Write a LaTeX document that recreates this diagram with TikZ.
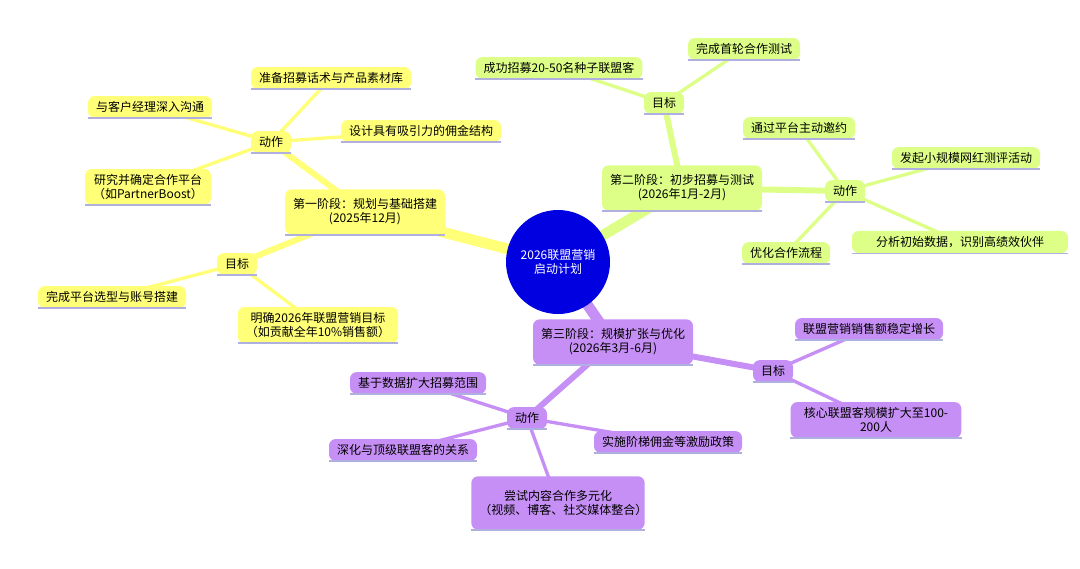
\documentclass[tikz,border=0pt]{standalone}
\usepackage{fontspec}
\setmainfont{Noto Sans CJK SC}
\usetikzlibrary{positioning,backgrounds}
\definecolor{yel}{HTML}{FFFF78}
\definecolor{grn}{HTML}{DDFF88}
\definecolor{pur}{HTML}{C68FF5}
\definecolor{rootc}{HTML}{0000E0}
\definecolor{lineb}{HTML}{B0B0E0}
\tikzset{
  box/.style={rounded corners=5pt, inner xsep=6pt, inner ysep=4pt, align=center, font=\fontsize{9}{10.5}\selectfont,
    append after command={(\tikzlastnode.south west) edge[draw=lineb, line width=1.2pt] (\tikzlastnode.south east)}},
  yb/.style={box, fill=yel},
  gb/.style={box, fill=grn},
  pb/.style={box, fill=pur},
  big/.style={line width=8pt},
  mid/.style={line width=4.5pt},
  thin/.style={line width=2.5pt},
}
\begin{document}
\begin{tikzpicture}[x=0.75pt, y=-0.75pt]
\useasboundingbox (0,0) rectangle (1080,568);
\node[circle, fill=rootc, text=white, minimum size=78pt, align=center, font=\fontsize{9}{11}\selectfont] (root) at (558,262) {2026联盟营销\\启动计划};
% first phase
\node[yb, minimum height=34pt] (p1) at (365,212) {第一阶段：规划与基础搭建\\(2025年12月)};
\node[yb] (p1a) at (271,142) {动作};
\node[yb] (p1a1) at (331,78) {准备招募话术与产品素材库};
\node[yb] (p1a2) at (150,107) {与客户经理深入沟通};
\node[yb] (p1a3) at (421,131) {设计具有吸引力的佣金结构};
\node[yb] (p1a4) at (148,187) {研究并确定合作平台\\（如PartnerBoost）};
\node[yb] (p1g) at (237,264) {目标};
\node[yb] (p1g1) at (112,297) {完成平台选型与账号搭建};
\node[yb] (p1g2) at (318,325) {明确2026年联盟营销目标\\（如贡献全年10\%销售额）};
% second phase
\node[gb, minimum height=34pt] (p2) at (682,188) {第二阶段：初步招募与测试\\(2026年1月-2月)};
\node[gb] (p2g) at (664,103) {目标};
\node[gb] (p2g1) at (559,68) {成功招募20-50名种子联盟客};
\node[gb] (p2g2) at (744,49) {完成首轮合作测试};
\node[gb] (p2a) at (845,191) {动作};
\node[gb] (p2a1) at (799,128) {通过平台主动邀约};
\node[gb] (p2a2) at (966,158) {发起小规模网红测评活动};
\node[gb, text width=150pt] (p2a3) at (960,242) {分析初始数据，识别高绩效伙伴};
\node[gb] (p2a4) at (786,253) {优化合作流程};
% third phase
\node[pb, minimum height=34pt] (p3) at (613,342) {第三阶段：规模扩张与优化\\(2026年3月-6月)};
\node[pb] (p3g) at (773,371) {目标};
\node[pb] (p3g1) at (869,329) {联盟营销销售额稳定增长};
\node[pb, text width=116pt] (p3g2) at (876,420) {核心联盟客规模扩大至100-200人};
\node[pb] (p3a) at (527,418) {动作};
\node[pb] (p3a1) at (418,383) {基于数据扩大招募范围};
\node[pb] (p3a2) at (403,450) {深化与顶级联盟客的关系};
\node[pb] (p3a3) at (668,442) {实施阶梯佣金等激励政策};
\node[pb, text width=118pt, minimum height=40pt] (p3a4) at (558,503) {尝试内容合作多元化\\（视频、博客、社交媒体整合）};
\begin{pgfonlayer}{background}
  \draw[big, yel] (root.center) -- (p1.center);
  \draw[big, grn] (root.center) -- (p2.center);
  \draw[big, pur] (root.center) -- (p3.center);
  \foreach \a/\b in {p1/p1a, p1/p1g} \draw[mid, yel] (\a.center) -- (\b.center);
  \foreach \a/\b in {p1a/p1a1, p1a/p1a2, p1a/p1a3, p1a/p1a4, p1g/p1g1, p1g/p1g2} \draw[thin, yel] (\a.center) -- (\b.center);
  \foreach \a/\b in {p2/p2a, p2/p2g} \draw[mid, grn] (\a.center) -- (\b.center);
  \foreach \a/\b in {p2g/p2g1, p2g/p2g2, p2a/p2a1, p2a/p2a2, p2a/p2a3, p2a/p2a4} \draw[thin, grn] (\a.center) -- (\b.center);
  \foreach \a/\b in {p3/p3a, p3/p3g} \draw[mid, pur] (\a.center) -- (\b.center);
  \foreach \a/\b in {p3g/p3g1, p3g/p3g2, p3a/p3a1, p3a/p3a2, p3a/p3a3, p3a/p3a4} \draw[thin, pur] (\a.center) -- (\b.center);
\end{pgfonlayer}
\end{tikzpicture}
\end{document}
